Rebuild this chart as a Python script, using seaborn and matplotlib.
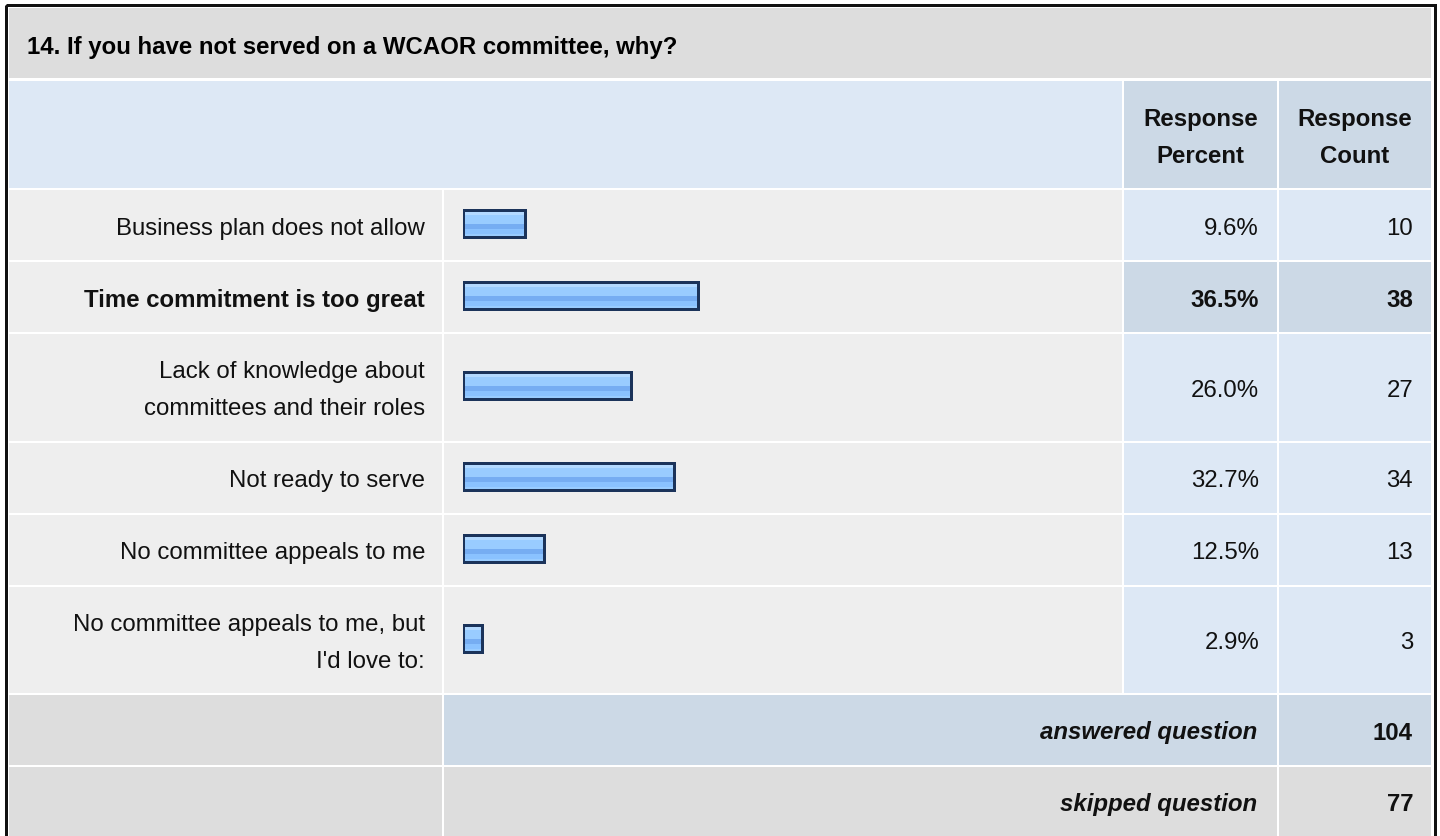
import matplotlib
matplotlib.use("Agg")
import matplotlib.pyplot as plt
from matplotlib.patches import Rectangle
import seaborn as sns
import numpy as np
import pandas as pd

# survey data
title = "14. If you have not served on a WCAOR committee, why?"
answers = [
    "Business plan does not allow",
    "Time commitment is too great",
    "Lack of knowledge about\ncommittees and their roles",
    "Not ready to serve",
    "No committee appeals to me",
    "No committee appeals to me, but\nI'd love to:",
]
percents = [9.6, 36.5, 26.0, 32.7, 12.5, 2.9]
counts = [10, 38, 27, 34, 13, 3]
answered = 104
skipped = 77

W, H = 1440, 837
FS = 24 * 72 / 100  # 24 px text

sns.set_theme(style="white")
plt.rcParams['font.family'] = ['Liberation Sans', 'DejaVu Sans']

fig = plt.figure(figsize=(W / 100, H / 100), dpi=100)
fig.patch.set_facecolor("white")
ax = fig.add_axes([0, 0, 1, 1])
ax.set_xlim(0, W)
ax.set_ylim(H, 0)
ax.axis("off")

GRAY = "#dddddd"
LIGHT = "#eeeeee"
BLUE = "#dde8f5"
BLUE2 = "#ccd9e6"
TXT = "#111111"

# columns (pixels)
c_lab = (9, 442)
c_bar = (444, 1122)
c_pct = (1124, 1277)
c_cnt = (1279, 1431)


def cell(x0, x1, y0, y1, color):
    ax.add_patch(Rectangle((x0, y0), x1 - x0, y1 - y0, facecolor=color,
                           edgecolor="none", zorder=1))


def lines(x, yc, s, ha="right", weight="normal", style="normal"):
    parts = s.split("\n")
    n = len(parts)
    for i, p in enumerate(parts):
        yb = yc + (i - (n - 1) / 2) * 37 + 8.5
        ax.text(x, yb, p, ha=ha, va="baseline", fontsize=FS, color=TXT,
                fontweight=weight, fontstyle=style, zorder=5)


# title row
cell(9, 1431, 9, 79, GRAY)
ax.text(27, 53.5, title, ha="left", va="baseline", fontsize=FS,
        fontweight="bold", color="#000000", zorder=5)

# header row
cell(9, c_bar[1], 82, 189, BLUE)
cell(*c_pct, 82, 189, BLUE2)
cell(*c_cnt, 82, 189, BLUE2)
lines(sum(c_pct) / 2, 135.5, "Response\nPercent", ha="center", weight="bold")
lines(sum(c_cnt) / 2, 135.5, "Response\nCount", ha="center", weight="bold")

# data rows
top = 191
centers = []
top_i = int(np.argmax(counts))
for i, lab in enumerate(answers):
    h = 70 + 36.5 * lab.count("\n")
    y0, y1 = top, top + h
    yc = (y0 + y1) / 2
    centers.append(yc - 1.5)
    hi = i == top_i
    cell(*c_lab, y0, y1, LIGHT)
    cell(*c_bar, y0, y1, LIGHT)
    cell(*c_pct, y0, y1, BLUE2 if hi else BLUE)
    cell(*c_cnt, y0, y1, BLUE2 if hi else BLUE)
    w = "bold" if hi else "normal"
    lines(425, yc, lab, weight=w)
    lines(1259, yc, f"{percents[i]:.1f}%", weight=w)
    lines(1413, yc, str(counts[i]), weight=w)
    top = y1 + 2

# answered / skipped rows
for name, val, mid in [("answered question", answered, BLUE2),
                       ("skipped question", skipped, GRAY)]:
    y0, y1 = top, top + 70
    yc = (y0 + y1) / 2
    cell(*c_lab, y0, y1, GRAY)
    cell(c_bar[0], c_pct[1], y0, y1, mid)
    cell(*c_cnt, y0, y1, mid)
    lines(1257, yc, name, weight="bold", style="italic")
    lines(1413, yc, str(val), weight="bold")
    top = y1 + 2

# outer frame
ax.add_patch(Rectangle((5.5, 5.5), 1429, 900, facecolor="none",
                       edgecolor="#111111", linewidth=3 * 0.72, zorder=6))

# bars: 0-100% spans x 463..1108 px
axb = fig.add_axes([463 / W, 0, 645 / W, 1])
axb.patch.set_alpha(0)
df = pd.DataFrame({"pct": percents, "ypos": centers})
bar_px = 27
sns.barplot(data=df, x="pct", y="ypos", orient="y", native_scale=True,
            width=bar_px / np.min(np.diff(sorted(centers))), color="#99ccff",
            errorbar=None, ax=axb)

stripes = (["#d6ebff"] * 2 + ["#b3d9ff"] * 3 + ["#99ccff"] * 8 +
           ["#76adf2"] * 5 + ["#8ac2ff"] * 4 + ["#99ccff"] * 3)
grad = np.array([matplotlib.colors.to_rgb(c) for c in stripes])[:, None, :]
for p in list(axb.patches):
    x, y, w, h = p.get_x(), p.get_y(), p.get_width(), p.get_height()
    im = axb.imshow(grad, extent=(x, x + w, y + h, y), aspect="auto",
                    interpolation="nearest", zorder=2)
    im.set_clip_path(p)
    p.set_facecolor("none")
    p.set_edgecolor("#1b335a")
    p.set_linewidth(3 * 0.72)
    p.set_zorder(3)

axb.set_xlim(0, 100)
axb.set_ylim(H, 0)
axb.axis("off")

fig.savefig("out.png", dpi=100, facecolor="white")
